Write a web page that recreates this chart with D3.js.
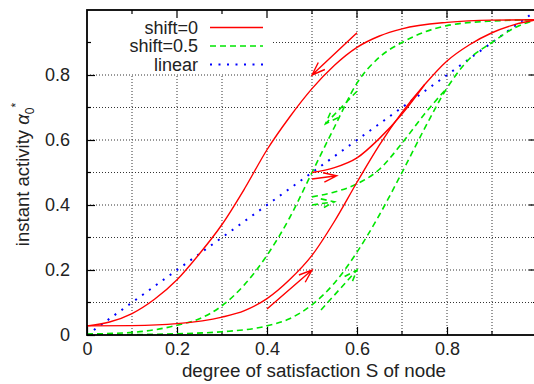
<!DOCTYPE html>
<html><head><meta charset="utf-8">
<script src="https://cdn.jsdelivr.net/npm/d3@7"></script>
<style>body{margin:0;background:#fff} svg{display:block} text{font-family:"Liberation Sans",Arial,Helvetica,sans-serif;fill:#222}</style>
</head><body><svg id="c" width="534" height="384"></svg>
<script>
// ---- data ----
const xTickLabels = [0, 0.2, 0.4, 0.6, 0.8];
const yTickLabels = [0, 0.2, 0.4, 0.6, 0.8];
const gridValues = [0.1, 0.2, 0.3, 0.4, 0.5, 0.6, 0.7, 0.8, 0.9];
const legendLabels = ["shift=0", "shift=0.5", "linear"];

// shift=0 (red)
const shift0Upper = [[0,0.028],[0.05,0.04],[0.1,0.066],[0.15,0.11],[0.2,0.17],[0.25,0.25],[0.3,0.34],[0.35,0.45],[0.4,0.57],[0.45,0.67],[0.5,0.758],[0.55,0.83],[0.6,0.885],[0.65,0.92],[0.7,0.942],[0.8,0.962],[0.9,0.969],[1,0.97]];
const shift0Lower = [[0,0.028],[0.1,0.029],[0.2,0.035],[0.3,0.055],[0.35,0.075],[0.4,0.112],[0.45,0.17],[0.5,0.245],[0.55,0.35],[0.6,0.47],[0.65,0.585],[0.7,0.685],[0.75,0.77],[0.8,0.843],[0.85,0.893],[0.9,0.93],[0.95,0.955],[1,0.97]];
const shift0Middle = [[0.5,0.5],[0.55,0.515],[0.6,0.545],[0.65,0.605],[0.7,0.68],[0.75,0.77]];
// shift=0.5 (green)
const shift05Upper = [[0,0.003],[0.1,0.008],[0.2,0.03],[0.25,0.05],[0.3,0.09],[0.35,0.155],[0.4,0.245],[0.45,0.36],[0.5,0.5],[0.55,0.64],[0.6,0.775],[0.65,0.855],[0.7,0.9],[0.8,0.952],[0.9,0.966],[1,0.97]];
const shift05Lower = [[0,0],[0.2,0.004],[0.3,0.01],[0.4,0.028],[0.45,0.05],[0.5,0.093],[0.55,0.16],[0.6,0.255],[0.65,0.37],[0.7,0.5],[0.75,0.635],[0.8,0.76],[0.85,0.85],[0.9,0.9],[0.95,0.945],[1,0.97]];
const shift05Middle = [[0.5,0.425],[0.55,0.44],[0.6,0.465],[0.65,0.51],[0.7,0.59],[0.75,0.68],[0.8,0.76]];
// linear (blue)
const linear = [[0,0],[1,1]];
// arrows [from, to]
const arrowsShift0 = [[[0.6,0.93],[0.5,0.8]], [[0.4,0.08],[0.5,0.2]], [[0.5,0.48],[0.555,0.49]]];
const arrowsShift05 = [[[0.6,0.75],[0.53,0.65]], [[0.5,0.40],[0.55,0.41]], [[0.52,0.077],[0.6,0.2]]];

// ---- layout ----
const svg = d3.select("#c");
const L = 87, T = 10, R = 537, B = 335;
const x = d3.scaleLinear().domain([0,1]).range([L,R]);
const y = d3.scaleLinear().domain([0,1]).range([B,T]);

svg.append("defs").append("clipPath").attr("id","clip")
  .append("rect").attr("x",L).attr("y",T).attr("width",R-L).attr("height",B-T);

// grid
const grid = svg.append("g").attr("stroke","#333").attr("stroke-width",1).attr("stroke-dasharray","1,2").attr("fill","none");
gridValues.forEach(v=>{
  grid.append("line").attr("x1",x(v)).attr("x2",x(v)).attr("y1",T).attr("y2",B);
  grid.append("line").attr("y1",y(v)).attr("y2",y(v)).attr("x1",L).attr("x2",R);
});

// legend background (opaque key)
svg.append("rect").attr("x",L+1).attr("y",T+1).attr("width",185).attr("height",63).attr("fill","#fff");

// axes with inward ticks
const fmt = d => d===0 ? "0" : d3.format(".1f")(d);
const axB = d3.axisBottom(x).tickValues(xTickLabels).tickFormat(fmt).tickSizeInner(-8).tickSizeOuter(0).tickPadding(16);
const axL = d3.axisLeft(y).tickValues(yTickLabels).tickFormat(fmt).tickSizeInner(-8).tickSizeOuter(0).tickPadding(17);
const gB = svg.append("g").attr("transform",`translate(0,${B})`).call(axB);
const gL = svg.append("g").attr("transform",`translate(${L},0)`).call(axL);
[gB,gL].forEach(g=>{g.select(".domain").remove(); g.selectAll("line").attr("stroke","#000").attr("stroke-width",1.2);
  g.selectAll("text").attr("font-size",18).attr("fill","#222").attr("font-family","Liberation Sans, Arial, sans-serif");});
gB.selectAll("text").attr("dy","0.2em");
// minor + mirrored ticks
const tk = svg.append("g").attr("stroke","#000").attr("stroke-width",1.2);
const allTicks = [0.1,0.2,0.3,0.4,0.5,0.6,0.7,0.8,0.9];
allTicks.forEach((v,i)=>{
  const len = (Math.round(v*10)%2===0) ? 8 : 4;
  if (Math.round(v*10)%2!==0) {
    tk.append("line").attr("x1",x(v)).attr("x2",x(v)).attr("y1",B).attr("y2",B-len);
    tk.append("line").attr("y1",y(v)).attr("y2",y(v)).attr("x1",L).attr("x2",L+len);
  }
  tk.append("line").attr("x1",x(v)).attr("x2",x(v)).attr("y1",T).attr("y2",T+len);
  tk.append("line").attr("y1",y(v)).attr("y2",y(v)).attr("x1",R).attr("x2",R-len);
});

// curves
const plot = svg.append("g").attr("clip-path","url(#clip)");
const line = d3.line().x(d=>x(d[0])).y(d=>y(d[1])).curve(d3.curveMonotoneX);
const red = {stroke:"#ff0000", dash:null, w:1.4};
const green = {stroke:"#00e600", dash:"6,4", w:1.6};
const blue = {stroke:"#0000ff", dash:"2,6.5", w:2};
function drawLine(data, st, straight){
  plot.append("path").attr("d", straight ? d3.line().x(d=>x(d[0])).y(d=>y(d[1]))(data) : line(data))
    .attr("fill","none").attr("stroke",st.stroke).attr("stroke-width",st.w)
    .attr("stroke-dasharray",st.dash);
}
function drawArrow(a, st){
  const x0=x(a[0][0]), y0=y(a[0][1]), x1=x(a[1][0]), y1=y(a[1][1]);
  const ang = Math.atan2(y0-y1, x0-x1), hl=14, ha=0.35;
  const p1=[x1+hl*Math.cos(ang+ha), y1+hl*Math.sin(ang+ha)];
  const p2=[x1+hl*Math.cos(ang-ha), y1+hl*Math.sin(ang-ha)];
  plot.append("path").attr("d",`M${x0},${y0}L${x1},${y1}M${p1[0]},${p1[1]}L${x1},${y1}L${p2[0]},${p2[1]}`)
    .attr("fill","none").attr("stroke",st.stroke).attr("stroke-width",st.w).attr("stroke-dasharray",st.dash);
}
drawLine(linear, blue, true);
[shift05Upper, shift05Lower, shift05Middle].forEach(d=>drawLine(d, green));
arrowsShift05.forEach(a=>drawArrow(a, green));
[shift0Upper, shift0Lower, shift0Middle].forEach(d=>drawLine(d, red));
arrowsShift0.forEach(a=>drawArrow(a, red));

// frame
svg.append("rect").attr("x",L).attr("y",T).attr("width",R-L).attr("height",B-T)
  .attr("fill","none").attr("stroke","#000").attr("stroke-width",1.8);

// legend
const styles=[red,green,blue];
legendLabels.forEach((lab,i)=>{
  const yy = 27.5 + i*18.5;
  svg.append("text").attr("x",198).attr("y",yy).attr("dy","0.35em").attr("text-anchor","end")
    .attr("font-size",18).text(lab);
  svg.append("line").attr("x1",210).attr("x2",263).attr("y1",yy).attr("y2",yy)
    .attr("stroke",styles[i].stroke).attr("stroke-width",styles[i].w).attr("stroke-dasharray",styles[i].dash);
});

// axis titles
svg.append("text").attr("x",(L+R)/2+2).attr("y",377).attr("text-anchor","middle").attr("font-size",18.8)
  .text("degree of satisfaction S of node");
const yt = svg.append("text").attr("transform",`translate(29,${(T+B)/2+2}) rotate(-90)`).attr("text-anchor","middle").attr("font-size",18.5);
yt.append("tspan").text("instant activity ");
yt.append("tspan").attr("font-style","italic").text("α");
yt.append("tspan").attr("font-size",12).attr("dy",5).text("0");
yt.append("tspan").attr("font-size",12).attr("dy",-14).text("*");
</script></body></html>
